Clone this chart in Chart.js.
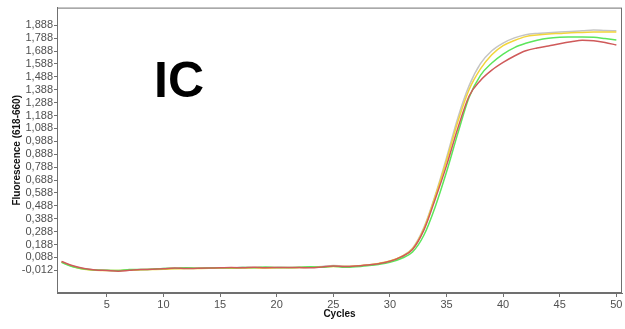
<!DOCTYPE html>
<html>
<head>
<meta charset="utf-8">
<script src="https://cdn.jsdelivr.net/npm/chart.js@4/dist/chart.umd.min.js"></script>
<style>
  html, body { margin: 0; padding: 0; background: #fff; }
  #wrap { position: relative; width: 625px; height: 329px; }
  #label { position: absolute; left: 154px; top: 55px; font: bold 50px "Liberation Sans", Arial, sans-serif; line-height: 50px; color: #000; }
</style>
</head>
<body>
<div id="wrap">
  <canvas id="c" width="625" height="329"></canvas>
  <div id="label">IC</div>
</div>
<script>
const cycles = [1,2,3,4,5,6,7,8,9,10,11,12,13,14,15,16,17,18,19,20,21,22,23,24,25,26,27,28,29,30,31,32,33,34,35,36,37,38,39,40,41,42,43,44,45,46,47,48,49,50];
const xTicks = [5,10,15,20,25,30,35,40,45,50];
const yTicks = [-0.012,0.088,0.188,0.288,0.388,0.488,0.588,0.688,0.788,0.888,0.988,1.088,1.188,1.288,1.388,1.488,1.588,1.688,1.788,1.888];
const seriesRed = [0.057,0.024,0.002,-0.009,-0.013,-0.018,-0.012,-0.006,-0.004,0.000,0.006,0.002,0.004,0.006,0.008,0.010,0.008,0.012,0.009,0.010,0.011,0.010,0.008,0.014,0.022,0.018,0.022,0.030,0.040,0.058,0.092,0.150,0.300,0.540,0.800,1.090,1.340,1.460,1.540,1.600,1.650,1.690,1.712,1.728,1.745,1.760,1.772,1.768,1.755,1.735];
const seriesGreen = [0.050,0.015,-0.002,-0.010,-0.012,-0.014,-0.006,-0.005,-0.003,0.003,0.004,0.008,0.004,0.006,0.009,0.008,0.010,0.009,0.014,0.010,0.010,0.012,0.016,0.012,0.020,0.012,0.016,0.024,0.034,0.050,0.080,0.130,0.260,0.480,0.750,1.050,1.330,1.500,1.595,1.665,1.715,1.748,1.772,1.788,1.795,1.797,1.798,1.795,1.785,1.774];
const seriesYellow = [0.052,0.018,-0.004,-0.012,-0.014,-0.013,-0.010,-0.008,-0.006,-0.004,0.000,0.002,0.003,0.004,0.006,0.005,0.006,0.008,0.006,0.008,0.008,0.010,0.012,0.014,0.018,0.018,0.022,0.030,0.042,0.060,0.095,0.155,0.310,0.560,0.840,1.140,1.390,1.550,1.660,1.730,1.770,1.800,1.812,1.820,1.825,1.830,1.832,1.835,1.836,1.835];
const seriesGray = [0.054,0.020,0.000,-0.010,-0.012,-0.015,-0.009,-0.006,-0.002,0.002,0.003,0.005,0.007,0.005,0.008,0.007,0.012,0.010,0.008,0.010,0.009,0.010,0.012,0.018,0.026,0.020,0.022,0.028,0.040,0.058,0.095,0.160,0.320,0.570,0.860,1.170,1.420,1.590,1.690,1.750,1.790,1.815,1.825,1.830,1.835,1.840,1.845,1.852,1.848,1.845];

function pts(arr) { return cycles.map((c, i) => ({ x: c, y: arr[i] })); }
function ds(arr, color) {
  return { data: pts(arr), borderColor: color, borderWidth: 1.5, pointRadius: 0, cubicInterpolationMode: 'monotone', fill: false };
}

const frame = {
  id: 'frame',
  afterDraw(chart) {
    const a = chart.chartArea, ctx = chart.ctx;
    ctx.save();
    ctx.strokeStyle = '#707070';
    ctx.lineWidth = 1;
    ctx.strokeRect(a.left + 0.5, a.top + 0.5, a.right - a.left - 1, a.bottom - a.top - 1);
    ctx.restore();
  }
};

const tickFont = { family: '"Liberation Sans", Arial, sans-serif', size: 11 };

new Chart(document.getElementById('c'), {
  type: 'line',
  data: {
    datasets: [
      ds(seriesRed, '#cf5a5a'),
      ds(seriesGreen, '#5ce65c'),
      ds(seriesYellow, '#f2d53a'),
      ds(seriesGray, '#c4c4c4')
    ]
  },
  options: {
    responsive: false,
    animation: false,
    layout: { padding: { left: 0, right: 3, top: 3, bottom: 0 } },
    plugins: { legend: { display: false }, tooltip: { enabled: false } },
    scales: {
      x: {
        type: 'linear',
        min: 0.6, max: 50.5,
        afterBuildTicks: s => { s.ticks = xTicks.map(v => ({ value: v })); },
        afterFit: s => { s.height = 36; },
        grid: { display: true, drawOnChartArea: false, drawTicks: true, tickLength: 4, color: '#707070' },
        border: { display: true, color: '#707070' },
        ticks: { font: tickFont, color: '#505050', padding: 1, maxRotation: 0, autoSkip: false },
        title: { display: true, text: 'Cycles', font: { family: '"Liberation Sans", Arial, sans-serif', size: 10, weight: 'bold' }, color: '#111', padding: { top: 0, bottom: 9 } }
      },
      y: {
        type: 'linear',
        min: -0.1875, max: 2.025,
        afterBuildTicks: s => { s.ticks = yTicks.map(v => ({ value: v })); },
        afterFit: s => { s.width = 57; },
        grid: { display: true, drawOnChartArea: false, drawTicks: true, tickLength: 3, color: '#707070' },
        border: { display: true, color: '#707070' },
        ticks: { font: tickFont, color: '#505050', padding: 1, autoSkip: false,
          callback: v => v.toFixed(3).replace('.', ',') },
        title: { display: true, text: 'Fluorescence (618-660)', font: { family: '"Liberation Sans", Arial, sans-serif', size: 10, weight: 'bold' }, color: '#111', padding: { top: 11, bottom: 0 } }
      }
    }
  },
  plugins: [frame]
});
</script>
</body>
</html>
